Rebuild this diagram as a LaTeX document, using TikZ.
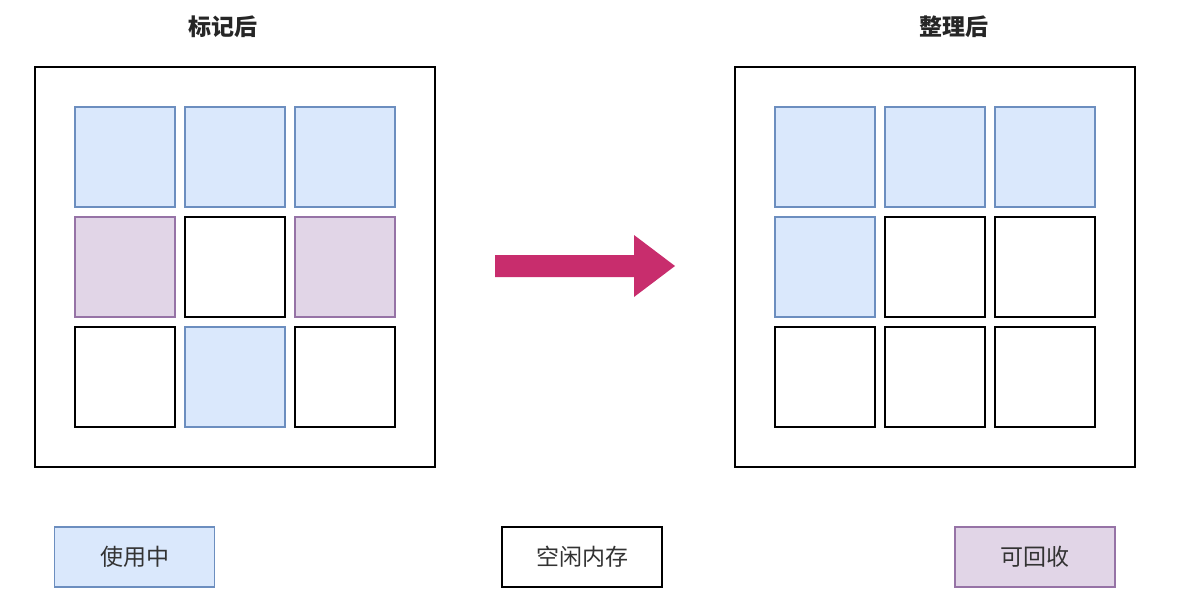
\documentclass[tikz,border=0pt]{standalone}
\usepackage{fontspec}
\newfontfamily\cjk{Noto Sans CJK SC}
\usepackage{tikz}

\definecolor{usedfill}{HTML}{DAE8FC}
\definecolor{useddraw}{HTML}{6C8EBF}
\definecolor{freefill}{HTML}{E1D5E7}
\definecolor{freedraw}{HTML}{9673A6}
\definecolor{arrowpink}{HTML}{C82D6D}

\begin{document}
\begin{tikzpicture}[x=1pt, y=-1pt,
  heap/.style={draw=black, line width=1.5pt, minimum width=400pt, minimum height=400pt, inner sep=0pt},
  used/.style={draw=useddraw, fill=usedfill, line width=1.5pt, minimum size=100pt, inner sep=0pt},
  empty/.style={draw=black, fill=white, line width=1.5pt, minimum size=100pt, inner sep=0pt},
  garbage/.style={draw=freedraw, fill=freefill, line width=1.5pt, minimum size=100pt, inner sep=0pt},
  title/.style={font=\cjk\bfseries\fontsize{23}{28}\selectfont, text=black!85},
  legend/.style={line width=1.5pt, minimum width=160pt, minimum height=60pt, inner sep=0pt, font=\cjk\fontsize{23}{28}\selectfont, text=black!80}]
\useasboundingbox (0,0) rectangle (1192,610);
\node[title] (MarkTitle) at (223,27) {标记后};
\node[title] (CompactTitle) at (954,27) {整理后};
\node[heap] (MarkHeap) at (235,267) {};
\node[heap] (CompactHeap) at (935,267) {};
\node[used] (MarkC11) at (125,157) {};
\node[used] (MarkC12) at (235,157) {};
\node[used] (MarkC13) at (345,157) {};
\node[garbage] (MarkC21) at (125,267) {};
\node[empty] (MarkC22) at (235,267) {};
\node[garbage] (MarkC23) at (345,267) {};
\node[empty] (MarkC31) at (125,377) {};
\node[used] (MarkC32) at (235,377) {};
\node[empty] (MarkC33) at (345,377) {};
\node[used] (CompactC11) at (825,157) {};
\node[used] (CompactC12) at (935,157) {};
\node[used] (CompactC13) at (1045,157) {};
\node[used] (CompactC21) at (825,267) {};
\node[empty] (CompactC22) at (935,267) {};
\node[empty] (CompactC23) at (1045,267) {};
\node[empty] (CompactC31) at (825,377) {};
\node[empty] (CompactC32) at (935,377) {};
\node[empty] (CompactC33) at (1045,377) {};
\fill[arrowpink] (495,255) -- (634,255) -- (634,235) -- (675,266) -- (634,297) -- (634,277) -- (495,277) -- cycle;
\node[legend, draw=useddraw, fill=usedfill] (UsedKey) at (134.5,557) {使用中};
\node[legend, draw=black, fill=white] (EmptyKey) at (582,557) {空闲内存};
\node[legend, draw=freedraw, fill=freefill] (GarbageKey) at (1035,557) {可回收};
\end{tikzpicture}
\end{document}
